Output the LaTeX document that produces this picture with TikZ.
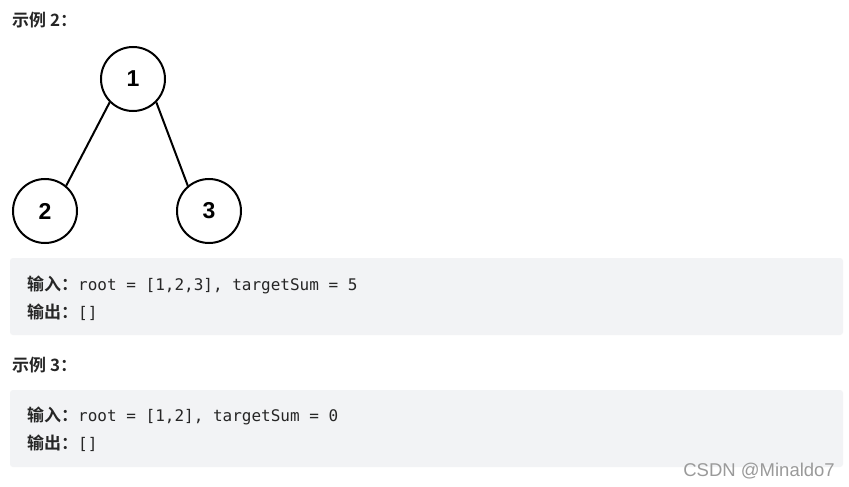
\documentclass[tikz,border=0pt]{standalone}
\usepackage{fontspec}
\setmainfont{Liberation Sans}
\newfontfamily\cjk{Noto Sans CJK SC}
\newfontfamily\cjkb{Noto Sans CJK SC Bold}
\newfontfamily\codefont{DejaVu Sans Mono}
\newfontfamily\numfont{Liberation Sans}
\definecolor{boxgray}{HTML}{F2F3F5}
\definecolor{txt}{HTML}{262626}
\definecolor{wm}{HTML}{9A9A9A}
\newcommand{\cjklabel}[1]{{\cjkb\fontsize{17}{17}\selectfont #1}}
\begin{document}
\begin{tikzpicture}[x=1pt,y=-1pt,
  tnode/.style={circle,draw=black,line width=2pt,minimum size=64pt,inner sep=0pt,
    font=\numfont\fontsize{23}{23}\selectfont\bfseries},
  edge/.style={line width=2pt},
  codebox/.style={fill=boxgray,rounded corners=3pt},
  heading/.style={anchor=base west,inner sep=0pt,text=txt,font=\cjkb\fontsize{17}{17}\selectfont},
  codeline/.style={anchor=base west,inner sep=0pt,text=txt,font=\codefont\fontsize{16}{16}\selectfont},
  watermark/.style={anchor=base east,inner sep=0pt,text=wm,font=\fontsize{18.5}{18.5}\selectfont}]
\useasboundingbox (0,0) rectangle (849,487);
\fill[white] (0,0) rectangle (849,487);
% heading 2
\node[heading] (h2) at (12,27) {示例 2：};
% tree
\node[tnode] (n1) at (133,79) {1};
\node[tnode] (n2) at (45,211) {2};
\node[tnode] (n3) at (209,211) {3};
\draw[edge] (n1.225) -- (n2.50);
\draw[edge] (n1.-45) -- (n3.130);
% box 1
\path[codebox] (10,258) rectangle (843,335);
\node[codeline] (l1) at (27,290) {\cjklabel{输入：}root = [1,2,3], targetSum = 5};
\node[codeline] (l2) at (27,318) {\cjklabel{输出：}[]};
% heading 3
\node[heading] (h3) at (12,371) {示例 3：};
% box 2
\path[codebox] (10,390) rectangle (843,467);
\node[codeline] (l3) at (27,421) {\cjklabel{输入：}root = [1,2], targetSum = 0};
\node[codeline] (l4) at (27,449) {\cjklabel{输出：}[]};
% watermark
\node[watermark] (w) at (835,476) {CSDN @Minaldo7};
\end{tikzpicture}
\end{document}
